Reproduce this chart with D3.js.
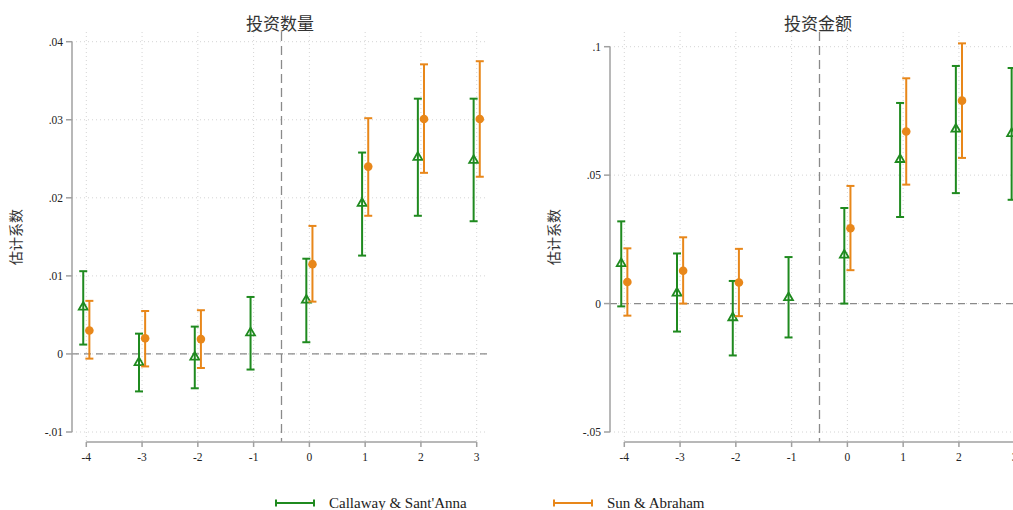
<!DOCTYPE html>
<html>
<head>
<meta charset="utf-8">
<script src="https://cdn.jsdelivr.net/npm/d3@7"></script>
<style>
  body { margin: 0; background: #fff; overflow: hidden; }
</style>
</head>
<body>
<script>
// event time
const periods = [-4, -3, -2, -1, 0, 1, 2, 3];
const x_tick_labels = ['-4', '-3', '-2', '-1', '0', '1', '2', '3'];

// y ticks
const count_y_ticks = [-0.01, 0, 0.01, 0.02, 0.03, 0.04];
const count_y_labels = ['-.01', '0', '.01', '.02', '.03', '.04'];
const amount_y_ticks = [-0.05, 0, 0.05, 0.1];
const amount_y_labels = ['-.05', '0', '.05', '.1'];

// 投资数量
const cs_count_est = [0.0060, -0.0011, -0.0004, 0.0027, 0.0069, 0.0193, 0.0252, 0.0248];
const cs_count_lo  = [0.0012, -0.0048, -0.0044, -0.0020, 0.0015, 0.0126, 0.0177, 0.0170];
const cs_count_hi  = [0.0106, 0.0026, 0.0035, 0.0073, 0.0122, 0.0258, 0.0327, 0.0327];
const sa_count_est = [0.0030, 0.0020, 0.0019, null, 0.0115, 0.0240, 0.0301, 0.0301];
const sa_count_lo  = [-0.0006, -0.0016, -0.0018, null, 0.0067, 0.0177, 0.0232, 0.0227];
const sa_count_hi  = [0.0068, 0.0055, 0.0056, null, 0.0164, 0.0302, 0.0371, 0.0375];

// 投资金额
const cs_amount_est = [0.0156, 0.0041, -0.0055, 0.0023, 0.0189, 0.0561, 0.0679, 0.0662];
const cs_amount_lo  = [-0.0011, -0.0109, -0.0202, -0.0132, 0.0000, 0.0337, 0.0430, 0.0404];
const cs_amount_hi  = [0.0320, 0.0195, 0.0088, 0.0181, 0.0372, 0.0781, 0.0925, 0.0917];
const sa_amount_est = [0.0084, 0.0128, 0.0082, null, 0.0293, 0.0670, 0.0790, 0.0785];
const sa_amount_lo  = [-0.0047, 0.0000, -0.0049, null, 0.0130, 0.0463, 0.0567, 0.0555];
const sa_amount_hi  = [0.0215, 0.0258, 0.0213, null, 0.0458, 0.0877, 0.1013, 0.1010];

const series_names = ["Callaway & Sant'Anna", 'Sun & Abraham'];
const series_colors = ['#1f8a1f', '#e8871a'];

const serif = "'Liberation Serif', 'Times New Roman', serif";
const cjk = "'Noto Sans CJK SC', sans-serif";

const fig_w = 1076, fig_h = 510, panel_w = 538;
const plot_top = 32, plot_bottom = 442;

const svg = d3.select('body').append('svg')
  .attr('width', fig_w)
  .attr('height', fig_h);

function bind_rows(x, est, lo, hi){
  return x.map((v, i) => ({x: v, est: est[i], lo: lo[i], hi: hi[i]}))
    .filter((d) => d.est !== null);
}

function draw_panel(dx, title, y_domain, y_range, y_ticks, y_labels, cs, sa){
  const g = svg.append('g').attr('transform', `translate(${dx}, 0)`);

  const x = d3.scaleLinear().domain([-4, 3]).range([86.3, 476.7]);
  const y = d3.scaleLinear().domain(y_domain).range(y_range);
  const left = 72, right = x(3.2);

  // grid
  g.append('g').selectAll('line.vgrid').data(periods).join('line')
    .attr('x1', (d) => x(d)).attr('x2', (d) => x(d))
    .attr('y1', plot_top).attr('y2', plot_bottom)
    .attr('stroke', '#d4d4d4').attr('stroke-width', 1)
    .attr('stroke-dasharray', '1,3');
  g.append('g').selectAll('line.hgrid').data(y_ticks).join('line')
    .attr('x1', left).attr('x2', right)
    .attr('y1', (d) => y(d)).attr('y2', (d) => y(d))
    .attr('stroke', '#d4d4d4').attr('stroke-width', 1)
    .attr('stroke-dasharray', '1,3');

  // reference lines
  g.append('line')
    .attr('x1', left).attr('x2', right)
    .attr('y1', y(0)).attr('y2', y(0))
    .attr('stroke', '#8a8a8a').attr('stroke-width', 1.3)
    .attr('stroke-dasharray', '7,5');
  g.append('line')
    .attr('x1', x(-0.5)).attr('x2', x(-0.5))
    .attr('y1', plot_top).attr('y2', plot_bottom)
    .attr('stroke', '#8a8a8a').attr('stroke-width', 1.3)
    .attr('stroke-dasharray', '9,5');

  // y axis
  const y_ax = g.append('g').attr('class', 'axis-left');
  y_ax.append('line')
    .attr('x1', left).attr('x2', left)
    .attr('y1', y(y_ticks[0])).attr('y2', y(y_ticks[y_ticks.length - 1]))
    .attr('stroke', '#a0a0a0').attr('stroke-width', 1.5);
  y_ax.selectAll('line.tick').data(y_ticks).join('line')
    .attr('class', 'tick')
    .attr('x1', left - 6).attr('x2', left)
    .attr('y1', (d) => y(d)).attr('y2', (d) => y(d))
    .attr('stroke', '#a0a0a0').attr('stroke-width', 1.5);
  y_ax.selectAll('text').data(y_ticks).join('text')
    .attr('x', left - 9).attr('y', (d) => y(d) + 4)
    .attr('text-anchor', 'end')
    .style('font-family', serif).style('font-size', '11.5px').attr('fill', '#222')
    .text((d, i) => y_labels[i]);

  // x axis
  const x_ax = g.append('g').attr('class', 'axis-bottom');
  x_ax.append('line')
    .attr('x1', x(-4)).attr('x2', x(3))
    .attr('y1', plot_bottom).attr('y2', plot_bottom)
    .attr('stroke', '#a0a0a0').attr('stroke-width', 1.5);
  x_ax.selectAll('line.tick').data(periods).join('line')
    .attr('class', 'tick')
    .attr('x1', (d) => x(d)).attr('x2', (d) => x(d))
    .attr('y1', plot_bottom).attr('y2', plot_bottom + 5)
    .attr('stroke', '#a0a0a0').attr('stroke-width', 1.5);
  x_ax.selectAll('text').data(periods).join('text')
    .attr('x', (d) => x(d)).attr('y', plot_bottom + 19)
    .attr('text-anchor', 'middle')
    .style('font-family', serif).style('font-size', '11.5px').attr('fill', '#222')
    .text((d, i) => x_tick_labels[i]);

  // title and y label
  g.append('text')
    .attr('x', (left + right) / 2).attr('y', 30)
    .attr('text-anchor', 'middle')
    .style('font-family', cjk).style('font-size', '17px').attr('fill', '#333')
    .text(title);
  g.append('text')
    .attr('transform', `translate(21, ${(plot_top + plot_bottom) / 2}) rotate(-90)`)
    .attr('text-anchor', 'middle')
    .style('font-family', cjk).style('font-size', '14px').attr('fill', '#333')
    .text('估计系数');

  // error bars
  const offsets = [-0.055, 0.055];
  [cs, sa].forEach((rows, k) => {
    const col = series_colors[k];
    const lay = g.append('g');
    const xp = (d) => x(d.x + offsets[k]);
    lay.selectAll('line.bar').data(rows).join('line')
      .attr('x1', xp).attr('x2', xp)
      .attr('y1', (d) => y(d.lo)).attr('y2', (d) => y(d.hi))
      .attr('stroke', col).attr('stroke-width', 2);
    ['lo', 'hi'].forEach((key) => {
      lay.selectAll('line.cap-' + key).data(rows).join('line')
        .attr('x1', (d) => xp(d) - 4).attr('x2', (d) => xp(d) + 4)
        .attr('y1', (d) => y(d[key])).attr('y2', (d) => y(d[key]))
        .attr('stroke', col).attr('stroke-width', 2);
    });
    if(k === 0){
      lay.selectAll('path').data(rows).join('path')
        .attr('transform', (d) => `translate(${xp(d)}, ${y(d.est)})`)
        .attr('d', d3.symbol(d3.symbolTriangle).size(34)())
        .attr('fill', 'none').attr('stroke', col).attr('stroke-width', 1.8);
    }else{
      lay.selectAll('circle').data(rows).join('circle')
        .attr('cx', xp).attr('cy', (d) => y(d.est)).attr('r', 4.3)
        .attr('fill', col);
    }
  });
}

draw_panel(0, '投资数量', [-0.01, 0.04], [432, 41.7], count_y_ticks, count_y_labels,
  bind_rows(periods, cs_count_est, cs_count_lo, cs_count_hi),
  bind_rows(periods, sa_count_est, sa_count_lo, sa_count_hi));

draw_panel(panel_w, '投资金额', [-0.05, 0.1], [432, 46.7], amount_y_ticks, amount_y_labels,
  bind_rows(periods, cs_amount_est, cs_amount_lo, cs_amount_hi),
  bind_rows(periods, sa_amount_est, sa_amount_lo, sa_amount_hi));

// legend
const legend = svg.append('g').attr('class', 'legend');
const key_x = [276, 554];
series_names.forEach((name, i) => {
  const col = series_colors[i], ly = 503;
  legend.append('line')
    .attr('x1', key_x[i]).attr('x2', key_x[i] + 38)
    .attr('y1', ly).attr('y2', ly)
    .attr('stroke', col).attr('stroke-width', 2);
  [key_x[i], key_x[i] + 38].forEach((cx) => {
    legend.append('line')
      .attr('x1', cx).attr('x2', cx)
      .attr('y1', ly - 3.5).attr('y2', ly + 3.5)
      .attr('stroke', col).attr('stroke-width', 2);
  });
  legend.append('text')
    .attr('x', key_x[i] + 53).attr('y', ly + 5)
    .style('font-family', serif).style('font-size', '15px').attr('fill', '#222')
    .text(name);
});
</script>
</body>
</html>
